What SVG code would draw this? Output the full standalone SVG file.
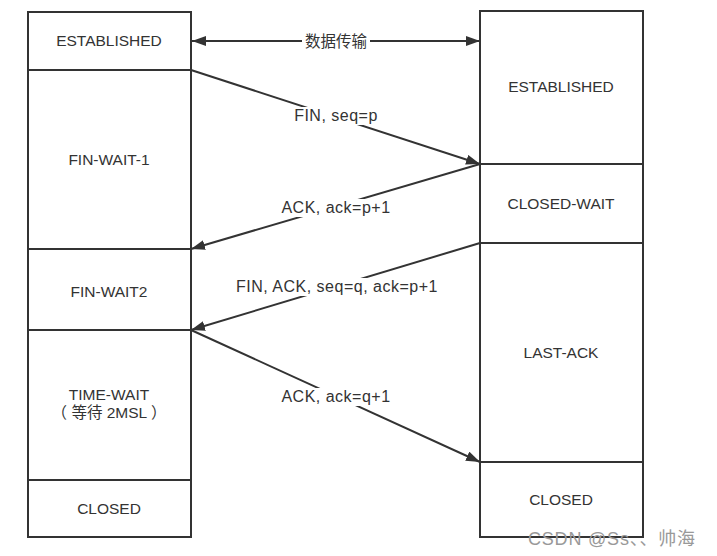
<svg xmlns="http://www.w3.org/2000/svg" width="717" height="556" viewBox="0 0 717 556">
<style>
.box{fill:#fff;stroke:#333;stroke-width:2}
.t{font-family:"Liberation Sans","Noto Sans CJK SC",sans-serif;font-size:15.5px;fill:#333;text-anchor:middle}
.lb{font-family:"Liberation Sans","Noto Sans CJK SC",sans-serif;font-size:16px;letter-spacing:0.5px;fill:#333;text-anchor:middle}
.ln{stroke:#333;stroke-width:2;fill:none}
.bg{fill:#fff}
</style>
<defs>
<marker id="ah" viewBox="0 0 14 10" refX="14" refY="5" markerWidth="14" markerHeight="10" markerUnits="userSpaceOnUse" orient="auto-start-reverse">
<path d="M0,0 L14,5 L0,10 Z" fill="#333"/>
</marker>
</defs>
<rect width="717" height="556" fill="#fff"/>
<g id="left">
<g id="l-established"><rect class="box" x="28" y="12" width="163" height="58"/><text class="t" x="109" y="46">ESTABLISHED</text></g>
<g id="l-finwait1"><rect class="box" x="28" y="70" width="163" height="179"/><text class="t" x="109" y="165">FIN-WAIT-1</text></g>
<g id="l-finwait2"><rect class="box" x="28" y="249" width="163" height="81"/><text class="t" x="109" y="297">FIN-WAIT2</text></g>
<g id="l-timewait"><rect class="box" x="28" y="330" width="163" height="150"/><text class="t" x="109" y="400">TIME-WAIT</text><text class="t" x="109" y="418" xml:space="preserve">（ 等待 2MSL ）</text></g>
<g id="l-closed"><rect class="box" x="28" y="480" width="163" height="57"/><text class="t" x="109" y="514">CLOSED</text></g>
</g>
<g id="right">
<g id="r-established"><rect class="box" x="480" y="11" width="163" height="153"/><text class="t" x="561" y="92">ESTABLISHED</text></g>
<g id="r-closewait"><rect class="box" x="480" y="164" width="163" height="79"/><text class="t" x="561" y="209">CLOSED-WAIT</text></g>
<g id="r-lastack"><rect class="box" x="480" y="243" width="163" height="219"/><text class="t" x="561" y="358">LAST-ACK</text></g>
<g id="r-closed"><rect class="box" x="480" y="462" width="163" height="75"/><text class="t" x="561" y="505">CLOSED</text></g>
</g>
<g id="connectors">
<line class="ln" x1="192" y1="41" x2="480" y2="41" marker-start="url(#ah)" marker-end="url(#ah)"/>
<rect class="bg" x="302" y="32" width="68" height="18"/>
<text class="t" x="336" y="47">数据传输</text>
<line class="ln" x1="191" y1="70" x2="480" y2="164" marker-end="url(#ah)"/>
<rect class="bg" x="290" y="107" width="92" height="18"/>
<text class="lb" x="336" y="121">FIN, seq=p</text>
<line class="ln" x1="480" y1="164" x2="191" y2="249" marker-end="url(#ah)"/>
<rect class="bg" x="276" y="199" width="120" height="18"/>
<text class="lb" x="336" y="213">ACK, ack=p+1</text>
<line class="ln" x1="480" y1="243" x2="191" y2="330" marker-end="url(#ah)"/>
<rect class="bg" x="232" y="278" width="210" height="18"/>
<text class="lb" x="337" y="292">FIN, ACK, seq=q, ack=p+1</text>
<line class="ln" x1="191" y1="330" x2="480" y2="462" marker-end="url(#ah)"/>
<rect class="bg" x="277" y="388" width="118" height="18"/>
<text class="lb" x="336" y="402">ACK, ack=q+1</text>
</g>
<text x="528" y="545" style="font-family:'Liberation Sans','Noto Sans CJK SC',sans-serif;font-size:18px;letter-spacing:0.8px;fill:#999">CSDN @Ss、、帅海</text>
</svg>
